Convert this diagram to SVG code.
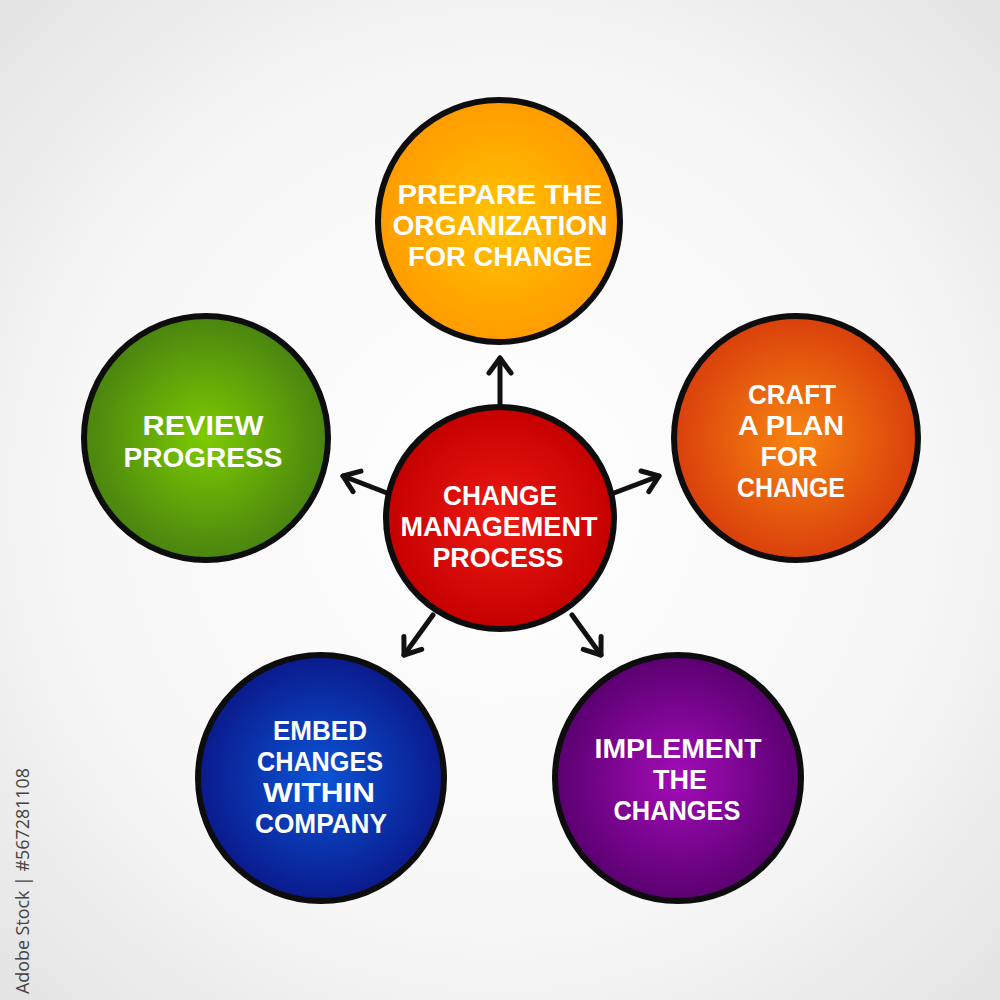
<svg xmlns="http://www.w3.org/2000/svg" width="1000" height="1000" viewBox="0 0 1000 1000">
<defs>
<radialGradient id="bg" cx="50%" cy="50%" r="70%">
<stop offset="0" stop-color="#ffffff"/><stop offset="0.6" stop-color="#f7f7f7"/><stop offset="1" stop-color="#e4e4e4"/>
</radialGradient>
<radialGradient id="gOrange" cx="50%" cy="50%" r="50%"><stop offset="0" stop-color="#ffc400"/><stop offset="1" stop-color="#ff9c00"/></radialGradient>
<radialGradient id="gRedOr" cx="50%" cy="50%" r="50%"><stop offset="0" stop-color="#f88510"/><stop offset="1" stop-color="#d9400c"/></radialGradient>
<radialGradient id="gGreen" cx="50%" cy="50%" r="50%"><stop offset="0" stop-color="#7ccb00"/><stop offset="1" stop-color="#4a8410"/></radialGradient>
<radialGradient id="gBlue" cx="50%" cy="50%" r="50%"><stop offset="0" stop-color="#0b55d6"/><stop offset="1" stop-color="#0a1a8c"/></radialGradient>
<radialGradient id="gPurple" cx="50%" cy="50%" r="50%"><stop offset="0" stop-color="#a30cb8"/><stop offset="1" stop-color="#5a0070"/></radialGradient>
<radialGradient id="gRed" cx="50%" cy="50%" r="50%"><stop offset="0" stop-color="#ee1a12"/><stop offset="1" stop-color="#c40000"/></radialGradient>
<marker id="arr" markerUnits="userSpaceOnUse" markerWidth="40" markerHeight="40" viewBox="-20 -20 40 40" refX="0" refY="0" orient="auto">
<path d="M -15 -11 L 0 0 L -15 11" fill="none" stroke="#111" stroke-width="5" stroke-linecap="round" stroke-linejoin="round"/>
</marker>
<style>
.node{stroke:#0d0d0d;stroke-width:6}
.lbl{font-family:"Liberation Sans","Arial",sans-serif;font-weight:700;fill:#ffffff;font-size:27px;text-anchor:middle}
.conn line{stroke:#111;stroke-width:5;stroke-linecap:round;marker-end:url(#arr)}
.wm{font-family:"Open Sans","DejaVu Sans",sans-serif;font-size:18px;fill:#444}
</style>
</defs>
<rect width="1000" height="1000" fill="url(#bg)"/>
<g id="connectors" class="conn">
<line x1="500" y1="407" x2="500" y2="358"/>
<line x1="614" y1="493" x2="659" y2="476"/>
<line x1="387" y1="493" x2="343" y2="476"/>
<line x1="433" y1="615" x2="404" y2="655"/>
<line x1="572" y1="615" x2="601" y2="655"/>
</g>
<g id="node-prepare">
<circle class="node" cx="499" cy="221" r="121" fill="url(#gOrange)"/>
<text class="lbl" x="500" y="204" textLength="205" lengthAdjust="spacingAndGlyphs">PREPARE THE</text>
<text class="lbl" x="500" y="235" textLength="215" lengthAdjust="spacingAndGlyphs">ORGANIZATION</text>
<text class="lbl" x="500" y="266" textLength="184" lengthAdjust="spacingAndGlyphs">FOR CHANGE</text>
</g>
<g id="node-craft">
<circle class="node" cx="796" cy="438" r="122" fill="url(#gRedOr)"/>
<text class="lbl" x="792" y="404" textLength="88" lengthAdjust="spacingAndGlyphs">CRAFT</text>
<text class="lbl" x="791" y="435" textLength="106" lengthAdjust="spacingAndGlyphs">A PLAN</text>
<text class="lbl" x="789" y="466" textLength="57" lengthAdjust="spacingAndGlyphs">FOR</text>
<text class="lbl" x="791" y="497" textLength="108" lengthAdjust="spacingAndGlyphs">CHANGE</text>
</g>
<g id="node-review">
<circle class="node" cx="206" cy="438" r="122" fill="url(#gGreen)"/>
<text class="lbl" x="203" y="435" textLength="121" lengthAdjust="spacingAndGlyphs">REVIEW</text>
<text class="lbl" x="203" y="467" textLength="159" lengthAdjust="spacingAndGlyphs">PROGRESS</text>
</g>
<g id="node-embed">
<circle class="node" cx="321" cy="778" r="123" fill="url(#gBlue)"/>
<text class="lbl" x="320" y="740" textLength="94" lengthAdjust="spacingAndGlyphs">EMBED</text>
<text class="lbl" x="320" y="771" textLength="126" lengthAdjust="spacingAndGlyphs">CHANGES</text>
<text class="lbl" x="319" y="802" textLength="112" lengthAdjust="spacingAndGlyphs">WITHIN</text>
<text class="lbl" x="321" y="833" textLength="132" lengthAdjust="spacingAndGlyphs">COMPANY</text>
</g>
<g id="node-implement">
<circle class="node" cx="678" cy="778" r="123" fill="url(#gPurple)"/>
<text class="lbl" x="678" y="758" textLength="167" lengthAdjust="spacingAndGlyphs">IMPLEMENT</text>
<text class="lbl" x="680" y="789" textLength="54" lengthAdjust="spacingAndGlyphs">THE</text>
<text class="lbl" x="677" y="820" textLength="127" lengthAdjust="spacingAndGlyphs">CHANGES</text>
</g>
<g id="node-center">
<ellipse class="node" cx="500" cy="518" rx="114" ry="111" fill="url(#gRed)"/>
<text class="lbl" x="500" y="505" textLength="114" lengthAdjust="spacingAndGlyphs">CHANGE</text>
<text class="lbl" x="499" y="536" textLength="197" lengthAdjust="spacingAndGlyphs">MANAGEMENT</text>
<text class="lbl" x="498" y="567" textLength="131" lengthAdjust="spacingAndGlyphs">PROCESS</text>
</g>
<text class="wm" transform="translate(29,994) rotate(-90)" textLength="226" lengthAdjust="spacingAndGlyphs">Adobe Stock | #567281108</text>
</svg>
